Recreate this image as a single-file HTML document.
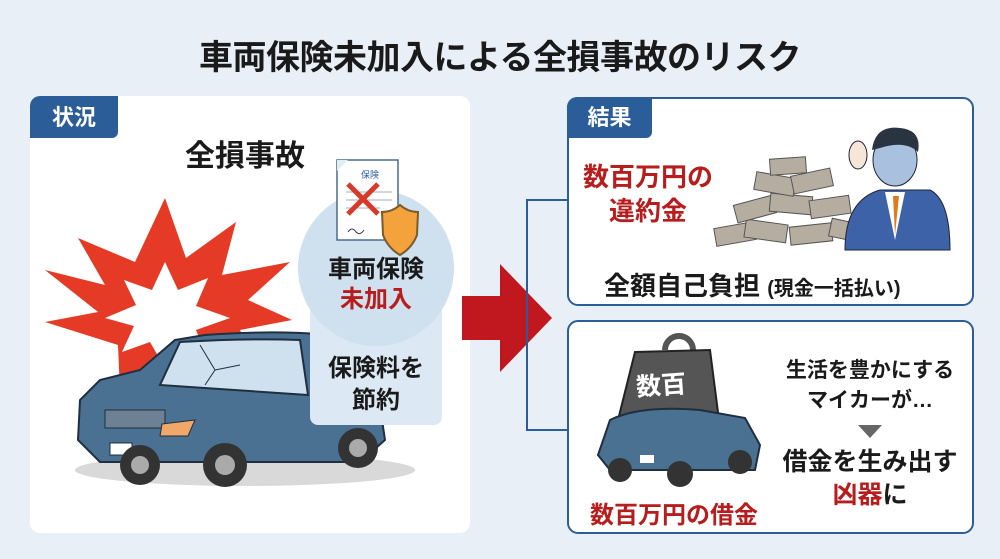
<!DOCTYPE html>
<html><head><meta charset="utf-8"><style>
*{margin:0;padding:0;box-sizing:border-box}
body{width:1000px;height:559px;background:#e8eff7;position:relative;overflow:hidden;font-family:"Liberation Sans","Noto Sans CJK JP",sans-serif;font-weight:bold;color:#1a1a1a}
.a{position:absolute;white-space:nowrap}
.c{text-align:center}
.red{color:#b81d1d}
</style></head><body>
<svg class="a" style="left:0;top:0" width="1000" height="559">
 <rect x="30" y="96" width="440" height="437" rx="10" fill="#ffffff"/>
 <path d="M30 138 V106 a10 10 0 0 1 10 -10 H118 V132 a6 6 0 0 1 -6 6 Z" fill="#2b5e99"/>
 <polygon fill="#e53b26" points="165,198 186,258 236,222 222,275 290,262 248,300 292,320 240,330 262,378 205,350 190,405 160,360 120,392 118,345 45,322 98,312 45,270 105,285 78,238 135,262" />
 <polygon fill="#fff" points="165,262 178,290 208,278 196,306 230,318 196,330 206,356 178,342 165,368 150,342 122,352 134,326 105,318 136,305 124,280 152,290"/>
 <ellipse cx="245" cy="470" rx="170" ry="16" fill="#d9d9d9"/>
 <path d="M175 340 L205 335 Q300 328 370 340 L385 440 L360 462 L100 462 L78 440 L80 400 L100 380 L140 370 Z" fill="#4a7192" stroke="#1f2f3f" stroke-width="2"/>
 <path d="M180 342 Q250 338 300 340 L308 395 L160 385 Z" fill="#cfe1ef" stroke="#1f2f3f" stroke-width="2"/>
 <path d="M200 345 L215 370 L205 385 M215 370 L240 365" stroke="#1f2f3f" fill="none"/>
 <rect x="105" y="410" width="60" height="18" fill="#6d8094" stroke="#1f2f3f"/>
 <rect x="110" y="443" width="22" height="12" fill="#fff" stroke="#1f2f3f"/>
 <path d="M162 424 L195 420 L188 436 L160 436Z" fill="#f0a868" stroke="#1f2f3f"/>
 <circle cx="140" cy="465" r="20" fill="#333"/><circle cx="140" cy="465" r="9" fill="#aaa"/>
 <circle cx="225" cy="465" r="22" fill="#333"/><circle cx="225" cy="465" r="10" fill="#aaa"/>
 <circle cx="358" cy="448" r="20" fill="#333"/><circle cx="358" cy="448" r="9" fill="#aaa"/>
 <rect x="310" y="300" width="132" height="125" rx="8" fill="#dce8f3"/>
 <circle cx="376" cy="268" r="78" fill="#cfe0ee"/>
 <path d="M337 160 H398 V240 H337 Z" fill="#fff" stroke="#4a6b8f" stroke-width="1.5"/>
 <path d="M337 160 H348 L337 171Z" fill="#e4ecf4"/>
 <line x1="346" y1="192" x2="392" y2="192" stroke="#aab" /><line x1="346" y1="200" x2="392" y2="200" stroke="#aab"/><line x1="346" y1="208" x2="380" y2="208" stroke="#aab"/>
 <path d="M348 184 L378 214 M378 184 L348 214" stroke="#d83a2a" stroke-width="5"/>
 <path d="M400 205 Q392 212 382 212 L383 235 Q388 248 400 255 Q412 248 417 235 L418 212 Q408 212 400 205Z" fill="#f4a23c" stroke="#7a5b2b" stroke-width="2"/>
 <path d="M348 232 q4 -6 8 0 q4 4 8 -2" stroke="#335" fill="none"/>
 <rect x="462" y="296" width="40" height="44" fill="#c0181e"/>
 <polygon points="500,264 552,318 500,372" fill="#c0181e"/>
 <path d="M567 200 H527 V430 H567" fill="none" stroke="#2b5e99" stroke-width="2"/>
 <rect x="568" y="98" width="405" height="207" rx="10" fill="#fff" stroke="#2b5e99" stroke-width="2"/>
 <path d="M567 138 V107 a10 10 0 0 1 10 -10 H652 V132 a6 6 0 0 1 -6 6 Z" fill="#2b5e99"/>
 <rect x="568" y="321" width="405" height="212" rx="10" fill="#fff" stroke="#2b5e99" stroke-width="2"/>
 <g fill="#b5ada0" stroke="#555" stroke-width="1">
  <rect x="715" y="225" width="40" height="18" transform="rotate(-10 735 234)"/>
  <rect x="745" y="222" width="42" height="18" transform="rotate(8 766 231)"/>
  <rect x="790" y="225" width="42" height="18" transform="rotate(-6 811 234)"/>
  <rect x="830" y="222" width="38" height="18" transform="rotate(12 849 231)"/>
  <rect x="735" y="200" width="40" height="18" transform="rotate(-15 755 209)"/>
  <rect x="770" y="195" width="42" height="18" transform="rotate(5 791 204)"/>
  <rect x="810" y="198" width="40" height="18" transform="rotate(-8 830 207)"/>
  <rect x="755" y="175" width="40" height="18" transform="rotate(10 775 184)"/>
  <rect x="792" y="172" width="40" height="18" transform="rotate(-12 812 181)"/>
  <rect x="770" y="158" width="36" height="16" transform="rotate(-4 788 166)"/>
 </g>
 <path d="M845 250 Q845 200 880 190 L930 190 Q950 200 950 250Z" fill="#3d62a8" stroke="#223"/>
 <path d="M885 192 L895 240 L905 192Z" fill="#fff"/><path d="M893 196 L895 235 L899 196Z" fill="#e07a1e"/>
 <ellipse cx="895" cy="160" rx="22" ry="26" fill="#a9c1df" stroke="#223"/>
 <path d="M872 150 Q875 125 900 128 Q922 130 918 152 Q905 140 880 148Z" fill="#2a3340"/>
 <ellipse cx="858" cy="155" rx="9" ry="14" fill="#f6e6d8" stroke="#223"/>
 <path d="M665 350 a14 14 0 0 1 28 0" fill="none" stroke="#555" stroke-width="6"/>
 <polygon points="635,352 710,350 720,428 615,432" fill="#555" stroke="#222" stroke-width="2"/>
 <path d="M610 420 Q640 405 700 410 L745 418 L760 445 L755 470 L610 470 L598 455 Z" fill="#4a7192" stroke="#1f2f3f" stroke-width="2"/>
 <rect x="640" y="455" width="14" height="8" fill="#fff"/>
 <circle cx="620" cy="470" r="12" fill="#333"/><circle cx="680" cy="474" r="13" fill="#333"/><circle cx="740" cy="462" r="12" fill="#333"/>
 <polygon points="858,425 882,425 870,438" fill="#666"/>
</svg>
<div class="a" style="left:0;width:1000px;top:30px;font-size:34px;text-align:center;letter-spacing:-0.5px">車両保険未加入による全損事故のリスク</div>
<div class="a" style="left:30px;width:88px;top:100px;font-size:22px;color:#fff;text-align:center">状況</div>
<div class="a" style="left:567px;width:85px;top:100px;font-size:22px;color:#fff;text-align:center">結果</div>
<div class="a" style="left:160px;width:170px;top:131px;font-size:30px;text-align:center">全損事故</div>
<div class="a" style="left:361px;top:168px;font-size:9px;color:#2b5e99;font-weight:normal">保険</div>
<div class="a c" style="left:306px;width:140px;top:255px;font-size:24px;line-height:30px">車両保険<br><span class="red">未加入</span></div>
<div class="a c" style="left:306px;width:140px;top:353px;font-size:24px;line-height:32px">保険料を<br>節約</div>
<div class="a c red" style="left:578px;width:140px;top:160px;font-size:26px;line-height:34px">数百万円の<br>違約金</div>
<div class="a" style="left:604px;top:266px;font-size:26px">全額自己負担 <span style="font-size:20px">(現金一括払い)</span></div>
<div class="a c" style="left:636px;top:366px;font-size:25px;color:#fff;transform:rotate(-4deg)">数百</div>
<div class="a red" style="left:590px;top:495px;font-size:24px">数百万円の借金</div>
<div class="a c" style="left:780px;width:180px;top:356px;font-size:21px;line-height:30px">生活を豊かにする<br>マイカーが…</div>
<div class="a c" style="left:770px;width:200px;top:446px;font-size:25px;line-height:33px">借金を生み出す<br><span class="red">凶器</span>に</div>
</body></html>
